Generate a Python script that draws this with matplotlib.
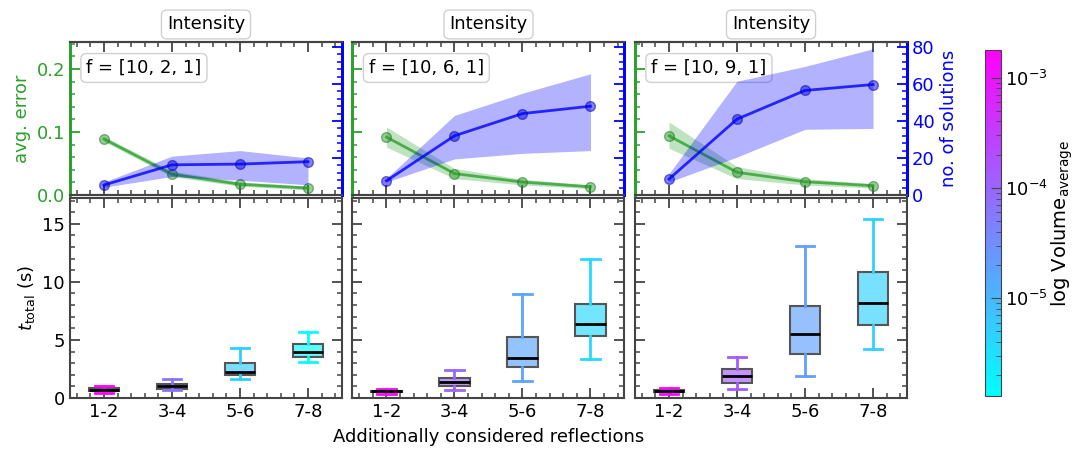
import numpy as np
import matplotlib
matplotlib.use("Agg")
import matplotlib.pyplot as plt
from matplotlib.colors import LogNorm
from matplotlib.ticker import MultipleLocator

plt.rcParams["font.family"] = ["DejaVu Sans"]
plt.rcParams["font.size"] = 12

categories = ["1-2", "3-4", "5-6", "7-8"]
f_labels = ["f = [10, 2, 1]", "f = [10, 6, 1]", "f = [10, 9, 1]"]

# avg. error (left axis, green)
err_mean = [[0.089, 0.033, 0.017, 0.011],
            [0.092, 0.034, 0.0205, 0.013],
            [0.094, 0.036, 0.021, 0.0147]]
err_lo = [[0.085, 0.029, 0.014, 0.008],
          [0.076, 0.026, 0.016, 0.010],
          [0.074, 0.026, 0.016, 0.011]]
err_hi = [[0.093, 0.038, 0.021, 0.014],
          [0.108, 0.042, 0.025, 0.016],
          [0.116, 0.045, 0.026, 0.018]]

# no. of solutions (right axis, blue)
sol_mean = [[5.4, 16.3, 16.7, 18.0],
            [7.7, 32.0, 44.0, 48.0],
            [8.6, 41.0, 56.5, 59.7]]
sol_lo = [[4.2, 10.0, 8.0, 5.5],
          [7.0, 19.5, 22.5, 24.0],
          [7.0, 20.5, 35.5, 36.0]]
sol_hi = [[7.0, 21.0, 24.0, 20.0],
          [9.0, 43.0, 55.0, 65.5],
          [11.5, 61.5, 69.5, 79.0]]

# t_total box stats: whislo, q1, med, q3, whishi
t_whislo = [[0.43, 0.65, 1.62, 3.07],
            [0.37, 0.65, 1.48, 3.32],
            [0.37, 0.77, 1.88, 4.18]]
t_q1 = [[0.60, 0.80, 1.99, 3.49],
        [0.48, 1.05, 2.64, 5.31],
        [0.50, 1.28, 3.80, 6.25]]
t_med = [[0.72, 1.00, 2.27, 3.98],
         [0.57, 1.36, 3.47, 6.34],
         [0.60, 1.88, 5.48, 8.21]]
t_q3 = [[0.85, 1.22, 2.98, 4.63],
        [0.62, 1.68, 5.23, 8.07],
        [0.68, 2.50, 7.93, 10.85]]
t_whishi = [[1.05, 1.65, 4.26, 5.68],
            [0.77, 2.39, 8.92, 11.96],
            [0.82, 3.52, 13.1, 15.4]]

# average volume -> box colour
volume = [[1.78e-3, 6.9e-5, 5.6e-6, 1.3e-6],
          [1.45e-3, 1.0e-4, 1.66e-5, 3.9e-6],
          [1.45e-3, 1.4e-4, 2.0e-5, 4.8e-6]]
vmin, vmax = 1.3e-6, 1.78e-3

green = "#2ca02c"
blue = "#0000ff"
grey = "#444444"
cmap = plt.get_cmap("cool")
norm = LogNorm(vmin=vmin, vmax=vmax)

fig = plt.figure(figsize=(10.73, 4.5), dpi=100)
lefts = [0.0652, 0.3285, 0.5918]
w = 0.2535
x = np.arange(1, len(categories) + 1)

for i in range(3):
    ax = fig.add_axes([lefts[i], 0.5667, w, 0.34])
    ax2 = ax.twinx()
    axb = fig.add_axes([lefts[i], 0.1156, w, 0.444])

    # top panel
    ax.fill_between(x, err_lo[i], err_hi[i], color=green, alpha=0.3, lw=0)
    ax.plot(x, err_mean[i], "-", color=green, lw=2, alpha=0.8)
    ax.plot(x, err_mean[i], "o", color=green, mec="#1d6b1d", ms=7, alpha=0.5)
    ax2.fill_between(x, sol_lo[i], sol_hi[i], color=blue, alpha=0.3, lw=0)
    ax2.plot(x, sol_mean[i], "-", color=blue, lw=2, alpha=0.8)
    ax2.plot(x, sol_mean[i], "o", color=blue, mec="#00008b", ms=7, alpha=0.5)

    ax.set_xlim(0.5, 4.5)
    ax.set_ylim(0, 0.243)
    ax2.set_ylim(0, 82.7)
    ax.set_xticks(x)
    ax.xaxis.set_minor_locator(MultipleLocator(0.2))
    ax.yaxis.set_major_locator(MultipleLocator(0.1))
    ax.yaxis.set_minor_locator(MultipleLocator(0.02))
    ax2.yaxis.set_major_locator(MultipleLocator(20))
    ax2.yaxis.set_minor_locator(MultipleLocator(4))
    ax.tick_params(axis="x", which="both", direction="in", top=True, bottom=True,
                   labelbottom=False, color=grey)
    ax.tick_params(axis="y", which="both", direction="in", left=True, right=False,
                   colors=green, labelsize=13)
    ax2.tick_params(axis="y", which="both", direction="in", right=True,
                    colors=blue, labelsize=13)
    for a in (ax, ax2):
        a.tick_params(which="major", length=7, width=1.3)
        a.tick_params(which="minor", length=3.5, width=1.1)
        a.spines["left"].set_color(green)
        a.spines["right"].set_color(blue)
        a.spines["top"].set_color(grey)
        a.spines["bottom"].set_color(grey)
        for s in a.spines.values():
            s.set_linewidth(1.5)
        a.spines["left"].set_linewidth(2)
        a.spines["right"].set_linewidth(2)
    if i != 0:
        ax.tick_params(axis="y", labelleft=False)
    else:
        ax.set_ylabel("avg. error", color=green, fontsize=13)
    if i != 2:
        ax2.tick_params(axis="y", labelright=False)
    else:
        ax2.set_ylabel("no. of solutions", color=blue, fontsize=13)

    ax.set_title("Intensity", fontsize=13, pad=9,
                 bbox=dict(boxstyle="round,pad=0.3", fc="white", ec="#d0d0d0"))
    ax.text(0.06, 0.83, f_labels[i], transform=ax.transAxes, fontsize=13,
            va="center", ha="left",
            bbox=dict(boxstyle="round,pad=0.3", fc="white", ec="#d0d0d0"))

    # bottom panel
    stats = []
    for j in range(len(categories)):
        stats.append({"whislo": t_whislo[i][j], "q1": t_q1[i][j], "med": t_med[i][j],
                      "q3": t_q3[i][j], "whishi": t_whishi[i][j], "fliers": []})
    bp = axb.bxp(stats, positions=x, widths=0.45, capwidths=0.27, patch_artist=True,
                 showfliers=False,
                 boxprops=dict(edgecolor="#555555", linewidth=1.5),
                 medianprops=dict(color="black", linewidth=2))
    for j in range(len(categories)):
        c = cmap(norm(volume[i][j]))
        bp["boxes"][j].set_facecolor((c[0], c[1], c[2], 0.65))
        for k in (2 * j, 2 * j + 1):
            bp["whiskers"][k].set_color(c)
            bp["whiskers"][k].set_linewidth(2)
            bp["caps"][k].set_color(c)
            bp["caps"][k].set_linewidth(2)

    axb.set_xlim(0.5, 4.5)
    axb.set_ylim(0, 17.2)
    axb.set_xticks(x)
    axb.set_xticklabels(categories)
    axb.xaxis.set_minor_locator(MultipleLocator(0.2))
    axb.yaxis.set_major_locator(MultipleLocator(5))
    axb.yaxis.set_minor_locator(MultipleLocator(1))
    axb.tick_params(which="both", direction="in", top=True, right=True, color=grey,
                    labelsize=13)
    axb.tick_params(which="major", length=7, width=1.3)
    axb.tick_params(which="minor", length=3.5, width=1.1)
    for s in axb.spines.values():
        s.set_color(grey)
        s.set_linewidth(1.5)
    if i != 0:
        axb.tick_params(axis="y", labelleft=False)
    else:
        axb.set_ylabel(r"$t_{\mathrm{total}}$ (s)", fontsize=13)

fig.text(0.455, 0.03, "Additionally considered reflections", ha="center", va="center",
         fontsize=13)

cax = fig.add_axes([0.918, 0.12, 0.0149, 0.769])
sm = plt.cm.ScalarMappable(norm=norm, cmap=cmap)
cb = fig.colorbar(sm, cax=cax)
cb.set_label(r"log Volume$_{\rm average}$", fontsize=14, labelpad=1)
cb.ax.tick_params(which="both", direction="in", labelsize=13, color=grey, pad=3)
cb.ax.tick_params(which="major", length=7)
cb.ax.tick_params(which="minor", length=3.5)
cb.outline.set_edgecolor(grey)

fig.savefig("out.png", dpi=100)
